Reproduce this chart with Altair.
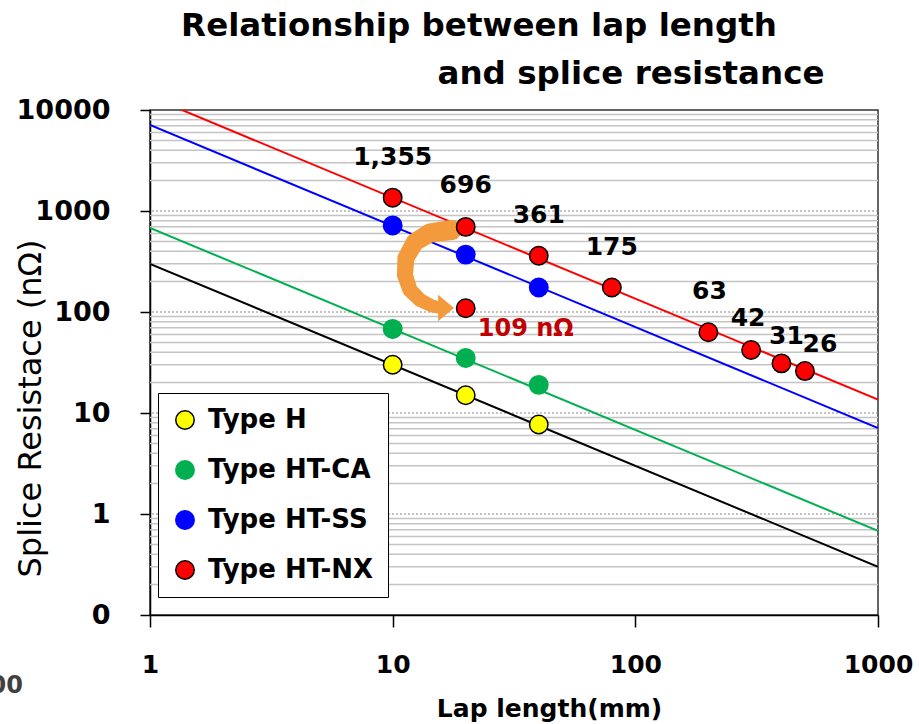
import altair as alt
import pandas as pd

# ---------------- data ----------------
TYPES = ["Type H", "Type HT-CA", "Type HT-SS", "Type HT-NX"]
FILLS = ["#ffff00", "#00b050", "#0000ff", "#ff0000"]
EDGES = ["#000000", "#00b050", "#0000ff", "#000000"]

H_X = [10, 20, 40]
H_Y = [30, 15, 7.7]
CA_X = [10, 20, 40]
CA_Y = [68, 35, 19]
SS_X = [10, 20, 40]
SS_Y = [720, 370, 175]
NX_X = [10, 20, 40, 80, 200, 300, 400, 500]
NX_Y = [1355, 696, 361, 175, 63, 42, 31, 26]
NX_LABELS = ["1,355", "696", "361", "175", "63", "42", "31", "26"]
IMPROVED_X = [20]
IMPROVED_Y = [109]
IMPROVED_LABEL = ["109 nΩ"]

# fitted trend lines, end points at lap length 1 mm and 1000 mm
TREND_NAMES = ["fit H", "fit HT-CA", "fit HT-SS", "fit HT-NX"]
TREND_X = [1, 1000]
TREND_H = [300, 0.3]
TREND_CA = [680, 0.68]
TREND_SS = [7100, 7.1]
TREND_NX = [13550, 13.55]
TREND_COLORS = ["#000000", "#00b050", "#0000ff", "#ff0000"]

X_TICKS = [1, 10, 100, 1000]
Y_TICKS = [0.1, 1, 10, 100, 1000, 10000]
MINOR_STEPS = [2, 3, 4, 5, 6, 7, 8, 9]

# curved annotation arrow (data coordinates)
ARROW_X = [17.55, 14.25, 12.36, 11.34, 11.24, 11.79, 12.96, 14.52, 15.97]
ARROW_Y = [648, 606, 493, 342, 232, 165, 131.5, 114.7, 109.5]
ARROW_W = [20, 19, 18, 17, 16, 15, 14, 13, 12]
ARROW_HEAD_X = [16.6]
ARROW_HEAD_Y = [109.5]

TITLE_LINES = ["Relationship between lap length", "and splice resistance"]

# ---------------- styling ----------------
FONT = "DejaVu Sans"
LABEL_OFFSETS = [(0, -41), (0, -42), (0, -41), (0, -40), (1, -41), (-3, -32), (5, -27), (15, -27)]

XS = alt.Scale(type="log", domain=[1, 1000], nice=False)
YS = alt.Scale(type="log", domain=[0.1, 10000], nice=False)

x_axis = alt.Axis(
    values=X_TICKS, format="d", title="Lap length(mm)", grid=False,
    tickSize=12, tickWidth=1.5, tickColor="#000", domainColor="#000", domainWidth=1.5,
    labelFont=FONT, labelFontSize=25, labelFontWeight="bold", labelColor="#000",
    labelBaseline="alphabetic", labelPadding=45, labelFlush=False, labelOverlap=False,
    titleFont=FONT, titleFontSize=25, titleFontWeight="bold", titleColor="#000",
    titleX=399, titleY=101, titleBaseline="alphabetic",
)
y_axis = alt.Axis(
    values=Y_TICKS, labelExpr="datum.value < 0.5 ? '0' : format(datum.value, 'd')",
    title="Splice Resistace (nΩ)", grid=False,
    tickSize=10, tickWidth=1.5, tickColor="#000", domainColor="#000", domainWidth=1.5,
    labelFont=FONT, labelFontSize=27, labelFontWeight="bold", labelColor="#000",
    labelPadding=30, labelOverlap=False,
    titleFont=FONT, titleFontSize=32, titleFontWeight="normal", titleColor="#000",
    titleX=-120, titleY=298, titleBaseline="middle", titleAlign="center", titleAngle=270,
)

def X():
    return alt.X("x:Q", scale=XS, axis=x_axis)

def Y():
    return alt.Y("y:Q", scale=YS, axis=y_axis)

# ---------------- frames ----------------
pts = pd.DataFrame({
    "x": H_X + CA_X + SS_X + NX_X + IMPROVED_X,
    "y": H_Y + CA_Y + SS_Y + NX_Y + IMPROVED_Y,
    "type": ["Type H"] * len(H_X) + ["Type HT-CA"] * len(CA_X) + ["Type HT-SS"] * len(SS_X)
            + ["Type HT-NX"] * len(NX_X) + ["Type HT-NX"] * len(IMPROVED_X),
})

trend = pd.DataFrame({
    "x": TREND_X * 4,
    "y": TREND_H + TREND_CA + TREND_SS + TREND_NX,
    "series": sum([[t] * 2 for t in TREND_NAMES], []),
})

minor_vals = [d * m for d in Y_TICKS[:-1] for m in MINOR_STEPS]
grid_minor = pd.DataFrame({"y": minor_vals})
grid_major = pd.DataFrame({"y": Y_TICKS[1:-1]})

arrow = pd.DataFrame({"x": ARROW_X, "y": ARROW_Y, "w": ARROW_W, "i": list(range(len(ARROW_X)))})
head = pd.DataFrame({"x": ARROW_HEAD_X, "y": ARROW_HEAD_Y})

labels = pd.DataFrame({"x": NX_X, "y": NX_Y, "t": NX_LABELS})
imp_lab = pd.DataFrame({"x": IMPROVED_X, "y": IMPROVED_Y, "t": IMPROVED_LABEL})

# ---------------- layers ----------------
minor_layer = alt.Chart(grid_minor).mark_rule(color="#c4c4c4", strokeWidth=1.5).encode(y=Y())
major_layer = alt.Chart(grid_major).mark_rule(color="#8a8a8a", strokeWidth=1.2, strokeDash=[2, 2]).encode(y=Y())

trend_layer = alt.Chart(trend).mark_line(strokeWidth=2, clip=True).encode(
    x=X(), y=Y(),
    color=alt.Color("series:N", scale=alt.Scale(domain=TREND_NAMES, range=TREND_COLORS), legend=None),
    detail="series:N",
)

arrow_layer = alt.Chart(arrow).mark_trail(color="#f39a3c", clip=True).encode(
    x=X(), y=Y(),
    size=alt.Size("w:Q", scale=None, legend=None),
    order="i:Q",
)
head_layer = alt.Chart(head).mark_point(
    shape="M-0.6,-1L0.6,0L-0.6,1Z", size=700, filled=True, color="#f39a3c", opacity=1
).encode(x=X(), y=Y())

legend = alt.Legend(
    title=None, orient="none", legendX=8, legendY=283, padding=14, rowPadding=24,
    symbolSize=340, symbolStrokeWidth=1.5, symbolType="circle", symbolOpacity=1,
    labelFont=FONT, labelFontSize=26, labelFontWeight="bold", labelColor="#000",
    labelOffset=10, labelLimit=400, strokeColor="#000", fillColor="#ffffff",
)

point_layer = alt.Chart(pts).mark_point(filled=True, size=340, strokeWidth=1.5, opacity=1).encode(
    x=X(), y=Y(),
    fill=alt.Fill("type:N", scale=alt.Scale(domain=TYPES, range=FILLS), legend=legend),
    stroke=alt.Stroke("type:N", scale=alt.Scale(domain=TYPES, range=EDGES), legend=legend),
)

label_layers = []
for i, (dx, dy) in enumerate(LABEL_OFFSETS):
    label_layers.append(
        alt.Chart(labels.iloc[[i]]).mark_text(
            font=FONT, fontSize=25, fontWeight="bold", color="#000", dx=dx, dy=dy, baseline="middle"
        ).encode(x=X(), y=Y(), text="t:N")
    )

imp_layer = alt.Chart(imp_lab).mark_text(
    font=FONT, fontSize=24, fontWeight="bold", color="#c00000", dx=60, dy=21, baseline="middle"
).encode(x=X(), y=Y(), text="t:N")

title1 = alt.Chart(pd.DataFrame({"t": [TITLE_LINES[0]]})).mark_text(
    font=FONT, fontSize=32.5, fontWeight="bold", color="#000", align="center", baseline="alphabetic"
).encode(text="t:N", x=alt.value(329), y=alt.value(-74))
title2 = alt.Chart(pd.DataFrame({"t": [TITLE_LINES[1]]})).mark_text(
    font=FONT, fontSize=32.5, fontWeight="bold", color="#000", align="center", baseline="alphabetic"
).encode(text="t:N", x=alt.value(481), y=alt.value(-26))

corner = alt.Chart(pd.DataFrame({"t": ["00"]})).mark_text(
    font=FONT, fontSize=24, fontWeight="bold", color="#404040", align="right", baseline="middle"
).encode(text="t:N", x=alt.value(-127), y=alt.value(576))

chart = alt.layer(
    minor_layer, major_layer, trend_layer, arrow_layer, head_layer, point_layer,
    *label_layers, imp_layer, title1, title2, corner,
).properties(
    width=728, height=505,
    autosize=alt.AutoSizeParams(type="none"),
    padding={"left": 150, "top": 110, "right": 41, "bottom": 109},
    background="#ffffff",
).configure_view(stroke="#333333", strokeWidth=1.5)

chart.save("out.html", embed_options={"renderer": "svg", "actions": False})
